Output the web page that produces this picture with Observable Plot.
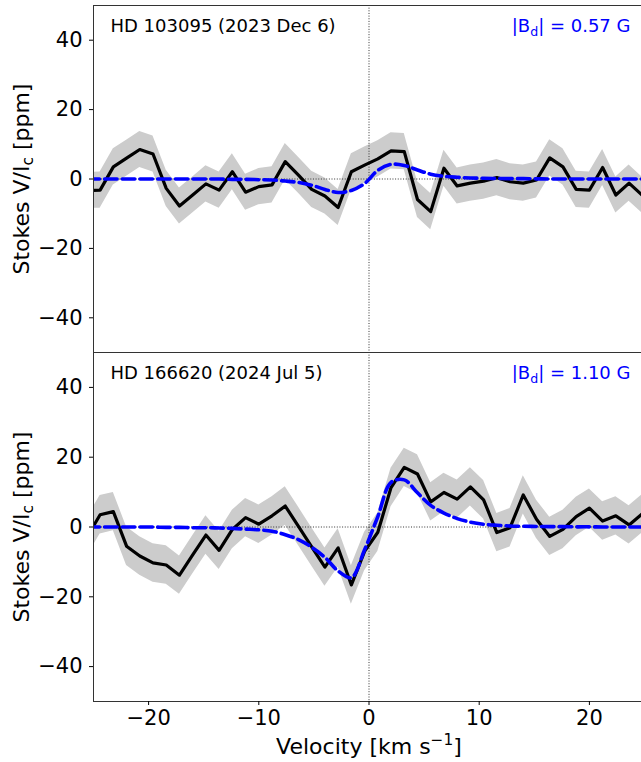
<!DOCTYPE html>
<html>
<head>
<meta charset="utf-8">
<script src="https://cdn.jsdelivr.net/npm/d3@7"></script>
<script src="https://cdn.jsdelivr.net/npm/@observablehq/plot@0.6"></script>
<style>
  html, body { margin: 0; padding: 0; background: white; overflow: hidden; }
  #wrap { width: 641px; height: 762px; overflow: hidden; }
  #wrap svg { display: block; }
</style>
</head>
<body>
<div id="wrap"></div>
<script>
// Velocity grid (km/s)
const velocity = [-25.6, -24.4, -23.2, -22.0, -20.8, -19.6, -18.4, -17.2, -16.0, -14.8, -13.6, -12.4, -11.2, -10.0, -8.8, -7.6, -6.4, -5.2, -4.0, -2.8, -1.6, -0.4, 0.8, 2.0, 3.2, 4.4, 5.6, 6.8, 8.0, 9.2, 10.4, 11.6, 12.8, 14.0, 15.2, 16.4, 17.6, 18.8, 20.0, 21.2, 22.4, 23.6, 24.8];

// HD 103095 (2023 Dec 6)
const stokesTop = [-3.3, -3.2, 3.5, 6.0, 8.5, 7.2, -2.7, -7.8, -4.6, -1.4, -3.2, 2.1, -3.8, -2.2, -1.7, 5.0, 1.1, -3.0, -4.9, -8.2, 2.1, 4.0, 5.8, 8.1, 7.9, -5.9, -9.4, 3.1, -2.0, -1.2, -0.6, 0.4, -0.8, -1.2, -0.3, 6.1, 3.5, -3.0, -3.2, 3.3, -4.6, -1.2, -4.7];
const errTop = [5.2, 5.2, 5.2, 5.2, 5.2, 5.2, 5.2, 5.2, 5.2, 5.2, 5.2, 5.2, 5.2, 5.2, 5.2, 5.2, 5.2, 5.2, 5.2, 5.2, 5.2, 5.2, 5.2, 5.2, 5.2, 5.2, 5.2, 5.2, 5.2, 5.2, 5.2, 5.2, 5.2, 5.2, 5.2, 5.2, 5.2, 5.2, 5.2, 5.2, 5.2, 5.2, 5.2];
const modelTop = [0, 0, 0, 0, 0, 0, 0, 0, 0, 0, 0, -0.1, -0.1, -0.2, -0.3, -0.6, -1.0, -1.8, -3.0, -3.9, -3.3, -1.3, 2.5, 4.2, 3.9, 2.6, 1.4, 0.8, 0.5, 0.3, 0.2, 0.15, 0.1, 0.1, 0.05, 0, 0, 0, 0, 0, 0, 0, 0];

// HD 166620 (2024 Jul 5)
const stokesBottom = [-2.9, 3.5, 4.4, -5.5, -8.3, -10.3, -10.9, -13.8, -8.0, -2.3, -6.7, -0.7, 2.7, 0.8, 3.2, 6.0, 0.2, -5.7, -11.5, -6.0, -16.6, -7.0, -1.5, 11.3, 17.1, 15.2, 7.2, 9.9, 8.0, 11.5, 7.8, -1.6, -0.2, 9.2, 2.2, -2.7, -0.7, 3.0, 5.4, 1.7, 3.2, 0.6, 3.8];
const errBottom = [5.5, 5.5, 5.5, 5.5, 5.5, 5.5, 5.5, 5.5, 5.5, 5.5, 5.5, 5.5, 5.5, 5.5, 5.5, 5.5, 5.5, 5.5, 5.5, 5.5, 5.5, 5.5, 5.5, 5.5, 5.5, 5.5, 5.5, 5.5, 5.5, 5.5, 5.5, 5.5, 5.5, 5.5, 5.5, 5.5, 5.5, 5.5, 5.5, 5.5, 5.5, 5.5, 5.5];
const modelBottom = [0, 0, 0, 0, 0, 0, -0.1, -0.1, -0.2, -0.2, -0.3, -0.4, -0.6, -0.8, -1.2, -2.2, -3.6, -5.8, -8.7, -12.6, -14.5, -6.5, 3.0, 12.8, 13.5, 9.8, 6.2, 4.0, 2.4, 1.4, 0.8, 0.5, 0.3, 0.2, 0.15, 0.1, 0.1, 0.05, 0.05, 0, 0, 0, 0];

const xTicks = [-20, -10, 0, 10, 20];
const yTicks = [-40, -20, 0, 20, 40];

const panels = [
  {star: "HD 103095 (2023 Dec 6)", field: "|B_{d}| = 0.57 G", s: stokesTop, e: errTop, m: modelTop},
  {star: "HD 166620 (2024 Jul 5)", field: "|B_{d}| = 1.10 G", s: stokesBottom, e: errBottom, m: modelBottom}
];

const fmt = d3.format("d");

function panel(p, bottom) {
  const rows = velocity.map((v, i) => ({v, s: p.s[i], lo: p.s[i] - p.e[i], hi: p.s[i] + p.e[i], m: p.m[i]}));
  const marks = [
    Plot.areaY(rows, {x: "v", y1: "lo", y2: "hi", fill: "#cccccc", clip: true}),
    Plot.ruleY([0], {stroke: "#333", strokeWidth: 1, strokeDasharray: "1,1.65"}),
    Plot.ruleX([0], {stroke: "#333", strokeWidth: 1, strokeDasharray: "1,1.65"}),
    Plot.line(rows, {x: "v", y: "s", stroke: "black", strokeWidth: 3.2, strokeLinejoin: "round", clip: true}),
    Plot.line(rows, {x: "v", y: "m", stroke: "#0000ff", strokeWidth: 3.6, strokeDasharray: "12.5,5.2", curve: "catmull-rom", clip: true}),
    Plot.frame({stroke: "#333", strokeWidth: 1}),
    Plot.axisY({ticks: yTicks, tickSize: 4, tickPadding: 7, fontSize: 21, tickFormat: fmt, label: null}),
    Plot.text([p.star], {frameAnchor: "top-left", dx: 17, dy: 14, textAnchor: "start", lineAnchor: "top", fontSize: 18, fill: "black"}),
    Plot.text([p.field], {frameAnchor: "top-right", dx: -14, dy: 14, textAnchor: "end", lineAnchor: "top", fontSize: 18, fill: "#0000ff"}),
    Plot.text(["Stokes V/I_{c} [ppm]"], {frameAnchor: "left", dx: -72, rotate: -90, textAnchor: "middle", lineAnchor: "middle", fontSize: 22, fill: "black"})
  ];
  if (bottom) {
    marks.push(Plot.axisX({ticks: xTicks, tickSize: 4, tickPadding: 5, fontSize: 21, tickFormat: fmt, label: null}));
    marks.push(Plot.text(["Velocity [km s^{−1}]"], {frameAnchor: "bottom", dy: 37, textAnchor: "middle", lineAnchor: "top", fontSize: 22, fill: "black"}));
  }
  return Plot.plot({
    width: 644,
    height: bottom ? 410 : 352,
    marginLeft: 93,
    marginRight: 0,
    marginTop: bottom ? 0 : 5,
    marginBottom: bottom ? 61 : 0,
    x: {domain: [-25, 25], axis: null},
    y: {domain: [-50, 50], axis: null},
    style: {fontFamily: "'DejaVu Sans', sans-serif", background: "white", maxWidth: "none", overflow: "hidden"},
    marks
  });
}

function applyRich(svg) {
  d3.select(svg).selectAll("text").each(function () {
    const s = this.textContent;
    if (!/[_^]\{/.test(s)) return;
    const fs = parseFloat(getComputedStyle(this).fontSize) || 16;
    const sel = d3.select(this);
    sel.text(null);
    let cur = 0;
    for (const part of s.split(/([_^]\{[^}]*\})/)) {
      if (!part) continue;
      const m = /^([_^])\{([^}]*)\}$/.exec(part);
      if (m) {
        const off = m[1] === "_" ? 0.2 * fs : -0.42 * fs;
        sel.append("tspan").attr("dy", off - cur).attr("font-size", 0.7 * fs).text(m[2]);
        cur = off;
      } else {
        sel.append("tspan").attr("dy", -cur).text(part);
        cur = 0;
      }
    }
  });
}

const wrap = document.getElementById("wrap");
panels.forEach((p, i) => {
  const svg = panel(p, i === 1);
  wrap.appendChild(svg);
  applyRich(svg);
});
</script>
</body>
</html>
